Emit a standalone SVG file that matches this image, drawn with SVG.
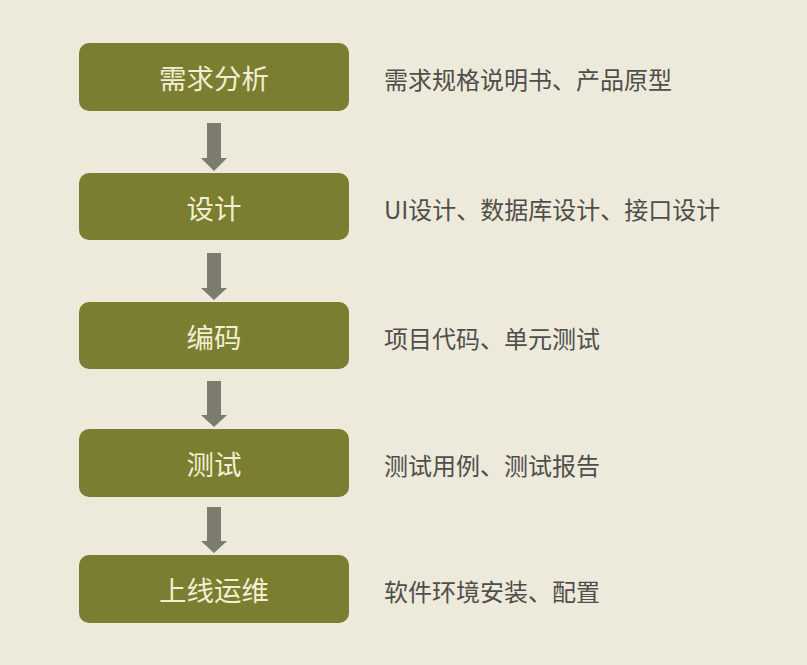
<svg xmlns="http://www.w3.org/2000/svg" width="807" height="665" viewBox="0 0 807 665">
<style>
.box{fill:#7b7e30;}
.lbl{font-family:"Noto Sans CJK SC","Noto Sans",sans-serif;font-size:27.5px;fill:#f1eed2;text-anchor:middle;dominant-baseline:central;}
.note{font-family:"Noto Sans CJK SC","Noto Sans",sans-serif;font-size:24px;fill:#4f4f4a;dominant-baseline:central;}
.arr{fill:#7b7b6e;}
</style>
<rect width="807" height="665" fill="#ede9db"/>
<g id="connectors">
<polygon class="arr" points="207,123 221,123 221,158 227,158 214,171 201,158 207,158"/>
<polygon class="arr" points="207,253 221,253 221,288 227,288 214,300 201,288 207,288"/>
<polygon class="arr" points="207,381 221,381 221,415 227,415 214,427 201,415 207,415"/>
<polygon class="arr" points="207,507 221,507 221,541 227,541 214,553 201,541 207,541"/>
</g>
<g id="n1"><rect class="box" x="79" y="43" width="270" height="68" rx="10"/><text class="lbl" x="214" y="77">需求分析</text><text class="note" x="384" y="78">需求规格说明书、产品原型</text></g>
<g id="n2"><rect class="box" x="79" y="173" width="270" height="67" rx="10"/><text class="lbl" x="214" y="207">设计</text><text class="note" x="384" y="208">UI设计、数据库设计、接口设计</text></g>
<g id="n3"><rect class="box" x="79" y="302" width="270" height="67" rx="10"/><text class="lbl" x="214" y="336">编码</text><text class="note" x="384" y="337">项目代码、单元测试</text></g>
<g id="n4"><rect class="box" x="79" y="429" width="270" height="68" rx="10"/><text class="lbl" x="214" y="463">测试</text><text class="note" x="384" y="464">测试用例、测试报告</text></g>
<g id="n5"><rect class="box" x="79" y="555" width="270" height="68" rx="10"/><text class="lbl" x="214" y="589">上线运维</text><text class="note" x="384" y="590">软件环境安装、配置</text></g>
</svg>
